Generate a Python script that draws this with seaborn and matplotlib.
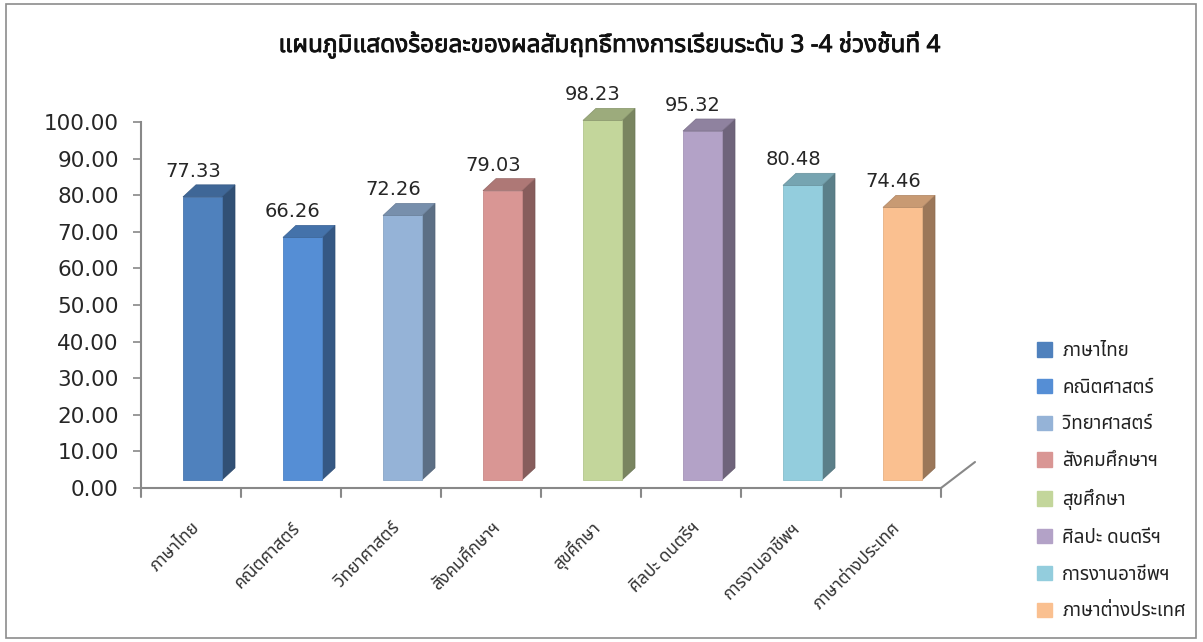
import numpy as np
import pandas as pd
import matplotlib
matplotlib.use("Agg")
import matplotlib.pyplot as plt
import seaborn as sns
from matplotlib import font_manager as fm
from matplotlib.ft2font import FT2Font
from matplotlib.patches import Polygon, Rectangle, Patch
import matplotlib.patheffects as pe
import matplotlib.colors as mcolors

# ---- data ----
categories = ["ภาษาไทย", "คณิตศาสตร์", "วิทยาศาสตร์", "สังคมศึกษาฯ",
              "สุขศึกษา", "ศิลปะ ดนตรีฯ", "การงานอาชีพฯ", "ภาษาต่างประเทศ"]
values = [77.33, 66.26, 72.26, 79.03, 98.23, 95.32, 80.48, 74.46]
colors = ["#4F81BD", "#558ED5", "#95B3D7", "#D99694",
          "#C3D69B", "#B3A2C7", "#93CDDD", "#FAC090"]
yticks = [0, 10, 20, 30, 40, 50, 60, 70, 80, 90, 100]
title = "แผนภูมิแสดงร้อยละของผลสัมฤทธิ์ทางการเรียนระดับ 3 -4 ช่วงชั้นที่ 4"

# ---- find a font with Thai glyphs ----
thai_fonts = []
for f in fm.fontManager.ttflist:
    try:
        cm = FT2Font(f.fname).get_charmap()
        if ord("ก") in cm and ord("ฯ") in cm:
            thai_fonts.append(f.name)
    except Exception:
        pass
pref = ["Tahoma", "Noto Sans Thai", "Noto Sans Thai UI", "Loma", "Garuda",
        "Sarabun", "TH Sarabun New", "Norasi", "Kinnari"]
thai = None
for p in pref:
    if p in thai_fonts:
        thai = p
        break
if thai is None and thai_fonts:
    thai = thai_fonts[0]

sns.set_theme(style="white")
fam = ([thai] if thai else []) + ["DejaVu Sans"]
plt.rcParams["font.family"] = fam

df = pd.DataFrame({"cat": categories, "val": values})

fig = plt.figure(figsize=(12.03, 6.42), dpi=100)
ax = fig.add_axes([141 / 1203, 1 - 488 / 642, 800 / 1203, 366 / 642])

sns.barplot(data=df, x="cat", y="val", hue="cat", palette=colors,
            order=categories, hue_order=categories, dodge=False,
            width=0.39, legend=False, ax=ax, saturation=1)

dx_shift = 0.115   # front face offset to the right (3D perspective)
dz_shift = 2.2     # front face lifted (data units)
depth_x = 0.13
depth_y = 3.3

def shade(c, f):
    r, g, b = mcolors.to_rgb(c)
    return (r * f, g * f, b * f)

patches = sorted(list(ax.patches), key=lambda p: p.get_x())
for i, p in enumerate(patches):
    c = colors[i]
    x0 = p.get_x() + dx_shift
    w = p.get_width()
    h = p.get_height()
    p.set_x(x0)
    p.set_y(dz_shift)
    p.set_edgecolor(shade(c, 0.92))
    p.set_linewidth(0.6)
    p.set_zorder(3)
    p.set_clip_on(False)
    y0 = dz_shift
    y1 = dz_shift + h
    side = Polygon([[x0 + w, y0], [x0 + w + depth_x, y0 + depth_y],
                    [x0 + w + depth_x, y1 + depth_y], [x0 + w, y1]],
                   closed=True, facecolor=shade(c, 0.62), edgecolor=shade(c, 0.55),
                   linewidth=0.5, zorder=2.9, clip_on=False)
    top = Polygon([[x0, y1], [x0 + depth_x, y1 + depth_y],
                   [x0 + w + depth_x, y1 + depth_y], [x0 + w, y1]],
                  closed=True, facecolor=shade(c, 0.8), edgecolor=shade(c, 0.7),
                  linewidth=0.5, zorder=3.1, clip_on=False)
    ax.add_patch(side)
    ax.add_patch(top)
    ax.text(i + 0.02, values[i] + 9.2, f"{values[i]:.2f}", ha="center", va="center",
            fontsize=14, color="#262626", family="DejaVu Sans", clip_on=False)

ax.set_xlim(-0.5, len(categories) - 0.5)
ax.set_ylim(0, 100)
ax.set_yticks(yticks)
ax.set_yticklabels([f"{v:.2f}" for v in yticks], fontsize=15.5, color="#262626",
                   family="DejaVu Sans")
ax.set_xticks(range(len(categories)))
ax.set_xticklabels(categories, rotation=45, ha="right", rotation_mode="anchor",
                   fontsize=12.5, color="#333333")
ax.tick_params(axis="x", length=0, pad=22)
ax.tick_params(axis="y", length=6, width=1.2, color="#888888", direction="out",
               left=True, pad=10)
ax.set_xlabel("")
ax.set_ylabel("")

for s in ["top", "right"]:
    ax.spines[s].set_visible(False)
for s in ["left", "bottom"]:
    ax.spines[s].set_color("#888888")
    ax.spines[s].set_linewidth(1.5)

# boundary ticks on x axis
for b in np.arange(-0.5, len(categories), 1.0):
    ax.plot([b, b], [0, -2.4], color="#888888", lw=1.5, clip_on=False, zorder=4)
# floor diagonal
ax.plot([len(categories) - 0.5, len(categories) - 0.5 + 0.34], [0, 7.1],
        color="#888888", lw=1.5, clip_on=False, zorder=4)

# title
fig.text(610 / 1203, 1 - 45 / 642, title, ha="center", va="center",
         fontsize=17.5, fontweight="bold", color="#111111",
         path_effects=[pe.withStroke(linewidth=0.6, foreground="#111111")])

# legend
handles = [Patch(facecolor=c, edgecolor=c) for c in colors]
leg = fig.legend(handles, categories, loc="upper left",
                 bbox_to_anchor=(1020 / 1203, 1 - 325 / 642), frameon=False,
                 fontsize=13.5, handlelength=0.8, handleheight=0.8,
                 labelspacing=1.0, handletextpad=0.55)
for t in leg.get_texts():
    t.set_color("#222222")

# outer border
fig.patches.append(Rectangle((6 / 1203, 4 / 642), 1190 / 1203, 634 / 642,
                             transform=fig.transFigure, fill=False,
                             edgecolor="#8c8c8c", linewidth=1.2))

fig.savefig("out.png", dpi=100)
